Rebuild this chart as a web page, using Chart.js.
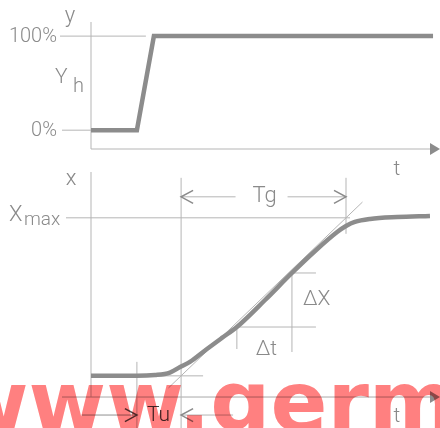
<!DOCTYPE html>
<html><head><meta charset="utf-8">
<script src="https://cdn.jsdelivr.net/npm/chart.js@4/dist/chart.umd.min.js"></script>
<style>
html,body{margin:0;padding:0;background:#fff;}
#wrap{position:relative;width:440px;height:428px;overflow:hidden;background:#fff;}
#top{position:absolute;left:0;top:0;z-index:2;}
#bot{position:absolute;left:0;top:160px;z-index:1;}
</style></head><body>
<div id="wrap"><canvas id="top" width="440" height="180"></canvas><canvas id="bot" width="440" height="268"></canvas></div>
<script>
// ---- data ----
const stepTime  = [0, 13.5, 18.5, 100.6];
const stepValue = [0, 0, 100, 100];
const respTime  = [0, 13.5, 18.8, 23.2, 26.2, 29.1, 34.1, 38.5, 42.9, 51.2, 59.1, 65.9, 72.4, 75.0, 77.6, 82.1, 90.0, 99.7];
const respValue = [0, 0, 0.5, 2.1, 5.6, 8.8, 17.0, 24.0, 30.9, 48.0, 65.1, 79.0, 91.0, 94.8, 97.4, 99.3, 100.5, 101.2];
const tangentTime  = [22.8, 79.85];
const tangentValue = [-7.6, 110];
const yTickValues = [0, 100];
const yTickLabels = ['0%', '100%'];
const tDelay = 13.5;   // step instant
const tU = 26.5;       // tangent meets baseline
const tG = 75;         // tangent meets Xmax
const xMaxValue = 100;
const dtRange = [42.9, 59.1];
const dxRange = [30.9, 65.1];
const labels = {y:'y', x:'x', t:'t', Y:'Y', h:'h', X:'X', max:'max', Tg:'Tg', Tu:'Tu', dX:'\u0394X', dt:'\u0394t'};
const watermark = 'www.germ';

// ---- styles ----
const THICK = '#8c8c8c', THIN = '#b5b5b5', TXT = '#8a8a8a';
const FONT = 'Roboto, "Liberation Sans", sans-serif';

function pts(xs, ys){ return xs.map((t,i)=>({x:t, y:ys[i]})); }
function line(ctx, x1,y1,x2,y2, col, w){ ctx.save(); ctx.strokeStyle=col||THIN; ctx.lineWidth=w||1; ctx.beginPath(); ctx.moveTo(x1,y1); ctx.lineTo(x2,y2); ctx.stroke(); ctx.restore(); }
function txt(ctx, s, x, y, size, align, base, col){ ctx.save(); ctx.fillStyle=col||TXT; ctx.font='300 '+size+'px '+FONT; ctx.textAlign=align||'left'; ctx.textBaseline=base||'alphabetic'; ctx.fillText(s,x,y); ctx.restore(); }
function arrowHead(ctx, x, y){ ctx.save(); ctx.fillStyle=THICK; ctx.beginPath(); ctx.moveTo(x+9,y); ctx.lineTo(x-1,y-6); ctx.lineTo(x-1,y+6); ctx.closePath(); ctx.fill(); ctx.restore(); }
function chevron(ctx, x, y, dir, col){ ctx.save(); ctx.strokeStyle=col||TXT; ctx.lineWidth=1.5; ctx.beginPath(); ctx.moveTo(x-dir*12,y-6.5); ctx.lineTo(x,y); ctx.lineTo(x-dir*12,y+6.5); ctx.stroke(); ctx.restore(); }

function opts(ymin, ymax, pad){
  return {responsive:false, animation:false, events:[], layout:{padding:pad},
    plugins:{legend:{display:false}, tooltip:{enabled:false}},
    scales:{x:{type:'linear', min:0, max:100, display:false}, y:{type:'linear', min:ymin, max:ymax, display:false}},
    elements:{point:{radius:0}}};
}

// ---- top chart: step input ----
const topDecor = {
  id:'topDecor',
  beforeDatasetsDraw(chart){
    const ctx=chart.ctx, a=chart.chartArea, X=v=>chart.scales.x.getPixelForValue(v), Y=v=>chart.scales.y.getPixelForValue(v);
    line(ctx, X(0), a.top, X(0), a.bottom);
    line(ctx, X(0), a.bottom, a.right, a.bottom);
    arrowHead(ctx, a.right, a.bottom);
    line(ctx, X(0)-31, Y(yTickValues[1]), X(stepTime[2])-8, Y(yTickValues[1]));
    line(ctx, X(0)-29, Y(yTickValues[0]), X(0), Y(yTickValues[0]));
  },
  afterDraw(chart){
    const ctx=chart.ctx, a=chart.chartArea, X=v=>chart.scales.x.getPixelForValue(v), Y=v=>chart.scales.y.getPixelForValue(v);
    yTickValues.forEach((v,i)=>txt(ctx, yTickLabels[i], X(0)-34, Y(v)+1, 20, 'right', 'middle'));
    txt(ctx, labels.y, X(0)-21, a.top, 22, 'center');
    txt(ctx, labels.Y, X(0)-36, 83, 21);
    txt(ctx, labels.h, X(0)-18, 92, 20);
    txt(ctx, labels.t, 397, a.bottom+26, 21, 'center');
  }
};
new Chart(document.getElementById('top'), {
  type:'line',
  data:{datasets:[{data:pts(stepTime, stepValue), borderColor:THICK, borderWidth:4.5, tension:0, fill:false, clip:false, borderJoinStyle:'miter', borderCapStyle:'butt', pointRadius:0}]},
  options:opts(-20, 115, {left:91, right:9, top:22, bottom:31}),
  plugins:[topDecor]
});

// ---- bottom chart: response ----
const AXV = -13.4;
const botDecor = {
  id:'botDecor',
  beforeDatasetsDraw(chart){
    const ctx=chart.ctx, a=chart.chartArea, X=v=>chart.scales.x.getPixelForValue(v), Y=v=>chart.scales.y.getPixelForValue(v);
    line(ctx, X(0), a.top, X(0), Y(AXV));
    line(ctx, X(0)-29, Y(AXV), a.right, Y(AXV), '#a8a8a8');
    arrowHead(ctx, a.right, Y(AXV));
    line(ctx, X(0)-25, Y(xMaxValue), X(tG)+4, Y(xMaxValue));
    line(ctx, X(tU), Y(xMaxValue)-40, X(tU), a.bottom);
    line(ctx, X(tG), Y(xMaxValue)-40, X(tG), Y(xMaxValue)+16);
    line(ctx, X(tDelay), Y(0)-14, X(tDelay), a.bottom);
    line(ctx, X(0), Y(0), X(tU)+22, Y(0));
    line(ctx, X(dtRange[0]), Y(dxRange[0]), X(dtRange[1])+24, Y(dxRange[0]));
    line(ctx, X(dtRange[0]), Y(dxRange[0]), X(dtRange[0]), Y(dxRange[0])+22);
    line(ctx, X(dtRange[1]), Y(dxRange[1]), X(dtRange[1]), Y(dxRange[0])+25);
    line(ctx, X(dtRange[1]), Y(dxRange[1]), X(dtRange[1])+24, Y(dxRange[1]));
    const yg = Y(xMaxValue)-21, mid=(X(tU)+X(tG))/2;
    line(ctx, X(tU), yg, mid-28, yg);
    line(ctx, mid+24, yg, X(tG), yg);
    const yu = Y(-24.8);
    line(ctx, X(tDelay)-55, yu, X(tDelay), yu, '#909090');
    line(ctx, X(tU), yu, X(tU)+52, yu);
  },
  afterDraw(chart){
    const ctx=chart.ctx, a=chart.chartArea, X=v=>chart.scales.x.getPixelForValue(v), Y=v=>chart.scales.y.getPixelForValue(v);
    const yg = Y(xMaxValue)-21, mid=(X(tU)+X(tG))/2, yu=Y(-24.8);
    chevron(ctx, X(tU), yg, -1); chevron(ctx, X(tG), yg, 1);
    chevron(ctx, X(tDelay), yu, 1, '#505050'); chevron(ctx, X(tU), yu, -1);
    txt(ctx, labels.Tg, mid+1, yg, 22, 'center', 'middle');
    txt(ctx, labels.Tu, X(tDelay)+10, yu+1, 21, 'left', 'middle', '#404040');
    txt(ctx, labels.x, X(0)-20, a.top+13, 22, 'center');
    txt(ctx, labels.X, 9, Y(xMaxValue)+3, 22);
    txt(ctx, labels.max, 24, Y(xMaxValue)+7, 19);
    txt(ctx, labels.dX, X(dtRange[1])+11, (Y(dxRange[0])+Y(dxRange[1]))/2, 21, 'left', 'middle');
    txt(ctx, labels.dt, (X(dtRange[0])+X(dtRange[1]))/2+2, Y(dxRange[0])+28, 21, 'center');
    txt(ctx, labels.t, 397, Y(AXV)+25, 21, 'center');
    ctx.save();
    ctx.globalCompositeOperation='multiply';
    ctx.fillStyle='rgb(255,128,128)';
    ctx.font='bold 84px "DejaVu Sans", sans-serif';
    ctx.textBaseline='alphabetic';
    ctx.fillText(watermark, -49, 271);
    ctx.restore();
  }
};
new Chart(document.getElementById('bot'), {
  type:'line',
  data:{datasets:[
    {data:pts(respTime, respValue), borderColor:THICK, borderWidth:4.5, cubicInterpolationMode:'monotone', fill:false, clip:false, borderCapStyle:'butt', pointRadius:0},
    {data:pts(tangentTime, tangentValue), borderColor:THIN, borderWidth:1, tension:0, fill:false, clip:false, pointRadius:0}
  ]},
  options:opts(-33, 129, {left:91, right:9, top:12, bottom:0}),
  plugins:[botDecor]
});
</script>
</body></html>
